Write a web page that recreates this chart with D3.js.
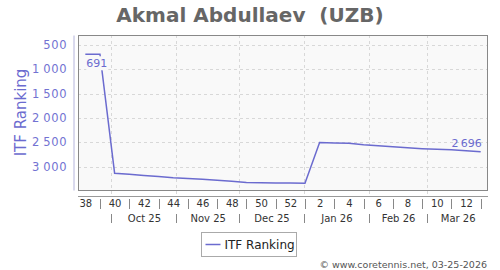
<!DOCTYPE html>
<html>
<head>
<meta charset="utf-8">
<script src="https://cdn.jsdelivr.net/npm/d3@7"></script>
<style>
  body { margin: 0; background: #fff; }
  text { font-family: "DejaVu Sans", sans-serif; }
</style>
</head>
<body>
<script>
'use strict';

// chart data
let playerTitle = "Akmal Abdullaev  (UZB)";
let seriesName = "ITF Ranking";
let weekStarts = [
  "2025-09-15", "2025-09-22", "2025-09-29", "2025-10-06", "2025-10-13", "2025-10-20", "2025-10-27",
  "2025-11-03", "2025-11-10", "2025-11-17", "2025-11-24", "2025-12-01", "2025-12-08", "2025-12-15",
  "2025-12-22", "2025-12-29", "2026-01-05", "2026-01-12", "2026-01-19", "2026-01-26", "2026-02-02",
  "2026-02-09", "2026-02-16", "2026-02-23", "2026-03-02", "2026-03-09", "2026-03-16", "2026-03-23"
];
let weekNumbers = [38, 39, 40, 41, 42, 43, 44, 45, 46, 47, 48, 49, 50, 51, 52, 1, 2, 3, 4, 5, 6, 7, 8, 9, 10, 11, 12, 13];
let rankings = [691, 691, 3135, 3155, 3180, 3205, 3230, 3245, 3260, 3278, 3300, 3325, 3330, 3335, 3338, 3340,
  2505, 2512, 2520, 2550, 2570, 2592, 2612, 2630, 2645, 2655, 2672, 2696];
let monthStarts = ["2025-10-01", "2025-11-01", "2025-12-01", "2026-01-01", "2026-02-01", "2026-03-01"];
let yTicks = [500, 1000, 1500, 2000, 2500, 3000];
let xDomain = ["2025-09-15", "2026-03-30"];
let yDomain = [295, 3480];
let credit = "\u00a9 www.coretennis.net, 03-25-2026";

// sizes
let width = 500,
  height = 270;
let plot = { left: 78, right: 488, top: 35, bottom: 190 };

let parse = d3.timeParse("%Y-%m-%d");
let fmtNum = d3.formatLocale({ decimal: ".", thousands: "\u2009", grouping: [3], currency: ["", ""] }).format(",d");
let lineColor = "#6b6bcf";

let svg = d3.select("body").append("svg")
  .attr("width", width)
  .attr("height", height);

let x = d3.scaleTime()
  .domain(xDomain.map(parse))
  .range([plot.left, plot.right]);

let y = d3.scaleLinear()
  .domain(yDomain)
  .range([plot.top, plot.bottom]);

// week center = monday + 3.5 days
let weekCenter = s => d3.timeHour.offset(parse(s), 84);

let points = weekStarts.map((s, i) => ({ date: weekCenter(s), week: weekNumbers[i], value: rankings[i] }));

// title
svg.append("text")
  .attr("x", width / 2)
  .attr("y", 22)
  .attr("text-anchor", "middle")
  .attr("font-size", 20)
  .attr("font-weight", "bold")
  .attr("fill", "#666")
  .style("white-space", "pre")
  .text(playerTitle);

// plot background
svg.append("rect")
  .attr("x", plot.left)
  .attr("y", plot.top)
  .attr("width", plot.right - plot.left)
  .attr("height", plot.bottom - plot.top)
  .attr("fill", "#f9f9f9");

// grid
let grid = svg.append("g").attr("stroke", "#d8d8d8").attr("stroke-dasharray", "3,3");
grid.selectAll(".hg")
  .data(yTicks)
  .join("line")
  .attr("x1", plot.left)
  .attr("x2", plot.right)
  .attr("y1", d => Math.round(y(d)) + 0.5)
  .attr("y2", d => Math.round(y(d)) + 0.5);
grid.selectAll(".vg")
  .data(monthStarts.map(parse))
  .join("line")
  .attr("x1", d => Math.round(x(d)) + 0.5)
  .attr("x2", d => Math.round(x(d)) + 0.5)
  .attr("y1", plot.top)
  .attr("y2", plot.bottom + 7);

// plot border
svg.append("rect")
  .attr("x", plot.left + 0.5)
  .attr("y", plot.top + 0.5)
  .attr("width", plot.right - plot.left - 1)
  .attr("height", plot.bottom - plot.top)
  .attr("fill", "none")
  .attr("stroke", "#888");

// y axis
let yAxis = svg.append("g")
  .attr("transform", "translate(73.5,0)")
  .call(d3.axisLeft(y).tickValues(yTicks).tickSize(0).tickSizeOuter(0).tickPadding(6).tickFormat(fmtNum));
yAxis.select(".domain").attr("stroke", "#b4b4dc");
yAxis.selectAll("text")
  .attr("font-family", "DejaVu Sans")
  .attr("font-size", 11.5)
  .attr("letter-spacing", 0.8)
  .attr("fill", "#7272d2");

svg.append("text")
  .attr("transform", `translate(26,${(plot.top + plot.bottom) / 2}) rotate(-90)`)
  .attr("text-anchor", "middle")
  .attr("font-size", 15)
  .attr("fill", "#6b6bcf")
  .text(seriesName);

// x axis line
svg.append("line")
  .attr("x1", plot.left)
  .attr("x2", plot.right)
  .attr("y1", 196.5)
  .attr("y2", 196.5)
  .attr("stroke", "#999");

// week labels (even weeks) and separators (odd weeks)
let weekAxis = svg.append("g")
  .attr("transform", "translate(0,198)")
  .call(d3.axisBottom(x)
    .tickValues(points.filter(p => p.week % 2 === 0).map(p => p.date))
    .tickSize(0)
    .tickPadding(2)
    .tickFormat((d, i) => points.filter(p => p.week % 2 === 0)[i].week));
weekAxis.select(".domain").remove();
weekAxis.selectAll("text")
  .attr("font-family", "DejaVu Sans")
  .attr("font-size", 10)
  .attr("fill", "#333");

svg.append("g")
  .selectAll("line")
  .data(points.filter(p => p.week % 2 === 1))
  .join("line")
  .attr("x1", d => Math.round(x(d.date)) + 0.5)
  .attr("x2", d => Math.round(x(d.date)) + 0.5)
  .attr("y1", 199)
  .attr("y2", 209)
  .attr("stroke", "#888");

// month labels and separators
let months = monthStarts.map(parse);
let monthMid = months.map((m, i) => {
  let end = i < months.length - 1 ? months[i + 1] : x.domain()[1];
  return new Date((m.getTime() + end.getTime()) / 2);
});
let monthAxis = svg.append("g")
  .attr("transform", "translate(0,213)")
  .call(d3.axisBottom(x)
    .tickValues(monthMid)
    .tickSize(0)
    .tickPadding(2)
    .tickFormat(d3.timeFormat("%b %y")));
monthAxis.select(".domain").remove();
monthAxis.selectAll("text")
  .attr("font-family", "DejaVu Sans")
  .attr("font-size", 10)
  .attr("fill", "#333");

svg.append("g")
  .selectAll("line")
  .data(months)
  .join("line")
  .attr("x1", d => Math.round(x(d)) + 0.5)
  .attr("x2", d => Math.round(x(d)) + 0.5)
  .attr("y1", 214)
  .attr("y2", 223)
  .attr("stroke", "#888");

// the ranking line
svg.append("path")
  .datum(points)
  .attr("fill", "none")
  .attr("stroke", lineColor)
  .attr("stroke-width", 1.5)
  .attr("d", d3.line().x(d => x(d.date)).y(d => y(d.value)));

// value labels: best ranking and latest ranking
let best = points[d3.minIndex(points, d => d.value)];
let last = points[points.length - 1];

let bestLabel = svg.append("g");
let bestText = bestLabel.append("text")
  .attr("x", x(best.date) + 1)
  .attr("y", y(best.value) + 13)
  .attr("font-size", 11)
  .attr("fill", lineColor)
  .text(fmtNum(best.value));
let bb = bestText.node().getBBox();
bestLabel.insert("rect", "text")
  .attr("x", bb.x)
  .attr("y", bb.y - 1)
  .attr("width", bb.width + 1)
  .attr("height", bb.height + 1)
  .attr("fill", "#f9f9f9");

svg.append("text")
  .attr("x", x(last.date) + 1)
  .attr("y", y(last.value) - 5)
  .attr("text-anchor", "end")
  .attr("font-size", 11)
  .attr("fill", lineColor)
  .text(fmtNum(last.value));

// legend
let legend = svg.append("g").attr("transform", "translate(201.5,232.5)");
legend.append("rect")
  .attr("width", 95)
  .attr("height", 24)
  .attr("fill", "#fff")
  .attr("stroke", "#aaa");
legend.append("line")
  .attr("x1", 4)
  .attr("x2", 19)
  .attr("y1", 12)
  .attr("y2", 12)
  .attr("stroke", lineColor)
  .attr("stroke-width", 1.5);
legend.append("text")
  .attr("x", 23)
  .attr("y", 16.5)
  .attr("font-size", 12)
  .attr("fill", "#222")
  .text(seriesName);

// credit
svg.append("text")
  .attr("x", 487)
  .attr("y", 268)
  .attr("text-anchor", "end")
  .attr("font-size", 9.5)
  .attr("fill", "#555")
  .text(credit);
</script>
</body>
</html>
